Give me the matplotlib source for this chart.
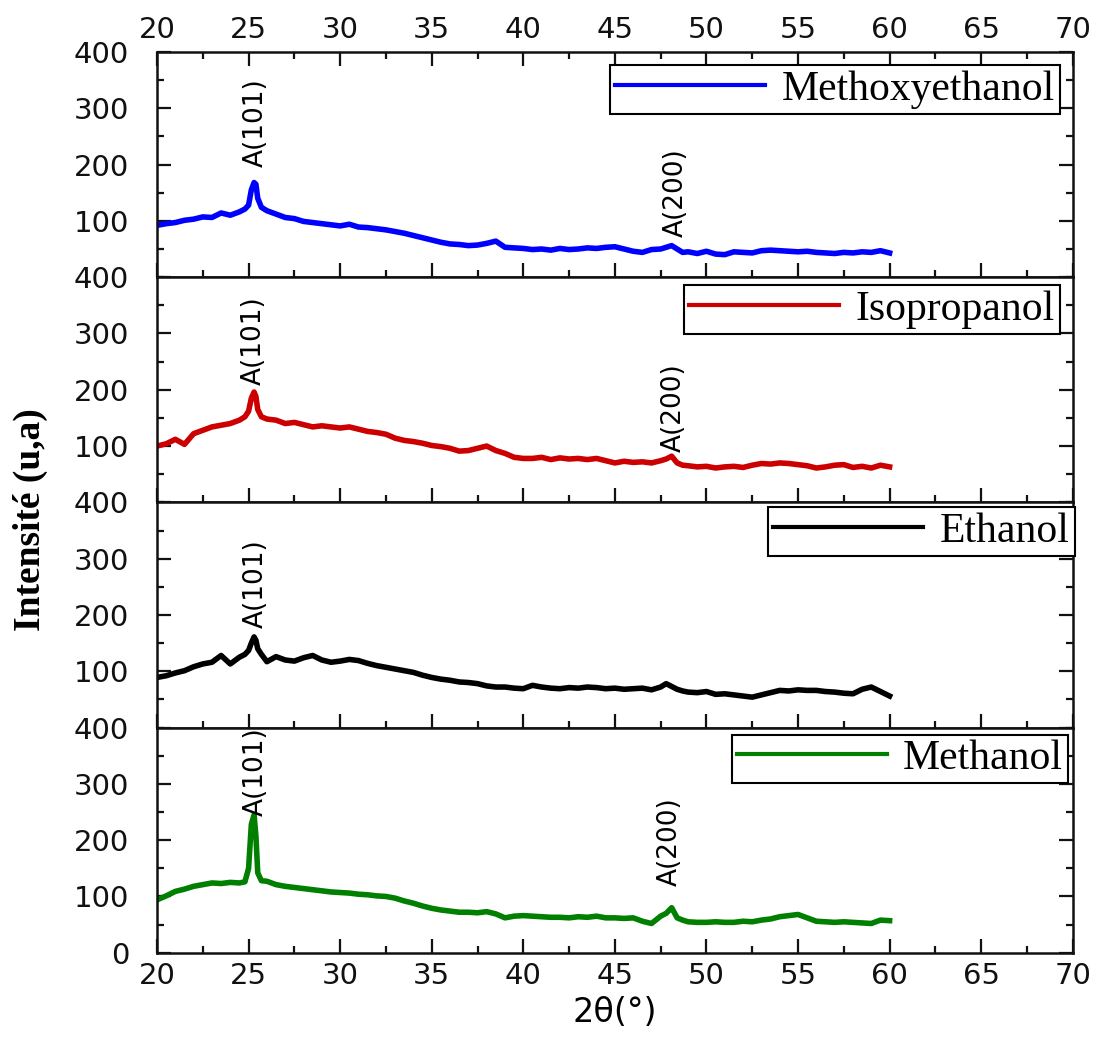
import numpy as np
import matplotlib.pyplot as plt
from matplotlib.ticker import MultipleLocator

# ---------------------------------------------------------------
# Données (diffractogrammes DRX)
# ---------------------------------------------------------------
two_theta = [
    20.0, 20.5, 21.0, 21.5, 22.0, 22.5, 23.0, 23.5, 24.0, 24.5,
    24.8, 25.0, 25.15, 25.3, 25.4, 25.5, 25.7, 26.0, 26.5, 27.0,
    27.5, 28.0, 28.5, 29.0, 29.5, 30.0, 30.5, 31.0, 31.5, 32.0,
    32.5, 33.0, 33.5, 34.0, 34.5, 35.0, 35.5, 36.0, 36.5, 37.0,
    37.5, 38.0, 38.5, 39.0, 39.5, 40.0, 40.5, 41.0, 41.5, 42.0,
    42.5, 43.0, 43.5, 44.0, 44.5, 45.0, 45.5, 46.0, 46.5, 47.0,
    47.5, 47.8, 48.1, 48.4, 48.7, 49.0, 49.5, 50.0, 50.5, 51.0,
    51.5, 52.0, 52.5, 53.0, 53.5, 54.0, 54.5, 55.0, 55.5, 56.0,
    56.5, 57.0, 57.5, 58.0, 58.5, 59.0, 59.5, 60.0,
]

methoxyethanol = [
    92, 95, 97, 101, 103, 107, 106, 114, 110, 116,
    121, 128, 155, 168, 165, 140, 124, 118, 112, 106,
    104, 99, 97, 95, 93, 91, 94, 89, 88, 86,
    84, 81, 78, 74, 70, 66, 62, 59, 58, 56,
    57, 60, 64, 53, 52, 51, 49, 50, 48, 51,
    49, 50, 52, 51, 53, 54, 50, 46, 44, 49,
    50, 53, 56, 50, 44, 45, 42, 46, 41, 40,
    45, 44, 43, 47, 48, 47, 46, 45, 46, 44,
    43, 42, 44, 43, 45, 44, 47, 43,
]

isopropanol = [
    100, 104, 112, 103, 122, 128, 134, 137, 140, 146,
    152, 162, 185, 196, 188, 165, 152, 148, 146, 140,
    142, 138, 134, 136, 134, 132, 134, 130, 126, 124,
    121, 114, 110, 108, 105, 101, 99, 96, 91, 92,
    96, 100, 92, 87, 80, 78, 78, 80, 76, 79,
    77, 78, 76, 78, 74, 70, 73, 71, 72, 70,
    74, 77, 82, 70, 66, 65, 63, 64, 61, 63,
    64, 62, 66, 69, 68, 70, 69, 67, 65, 61,
    63, 66, 67, 62, 64, 61, 66, 63,
]

ethanol = [
    89, 92, 97, 101, 108, 113, 116, 128, 113, 125,
    130, 137, 150, 161, 155, 140, 130, 117, 126, 120,
    118, 124, 128, 120, 116, 118, 121, 119, 114, 110,
    107, 104, 101, 98, 93, 89, 86, 84, 81, 80,
    78, 74, 72, 72, 70, 69, 75, 72, 70, 69,
    71, 70, 72, 71, 69, 70, 68, 69, 70, 67,
    72, 78, 73, 68, 65, 63, 62, 64, 59, 60,
    58, 56, 54, 58, 62, 66, 65, 67, 66, 66,
    64, 63, 61, 60, 68, 72, 64, 56,
]

methanol = [
    94, 101, 109, 113, 118, 121, 124, 123, 125, 124,
    126, 150, 228, 245, 207, 142, 128, 127, 121, 118,
    116, 114, 112, 110, 108, 107, 106, 104, 103, 101,
    100, 97, 92, 88, 83, 79, 76, 74, 72, 72,
    71, 73, 69, 62, 65, 66, 65, 64, 63, 63,
    62, 64, 63, 65, 62, 62, 61, 62, 56, 52,
    65, 70, 80, 62, 58, 55, 54, 54, 55, 54,
    54, 56, 55, 58, 60, 64, 66, 68, 62, 56,
    55, 54, 55, 54, 53, 52, 58, 57,
]

noms = ["Methoxyethanol", "Isopropanol", "Ethanol", "Methanol"]
series = [methoxyethanol, isopropanol, ethanol, methanol]
couleurs = ["#0000FF", "#CC0000", "#000000", "#007F00"]

# annotations des pics : (texte, position 2θ, intensité du centre du texte)
pics = [
    [("A(101)", 25.4, 274), ("A(200)", 48.3, 151)],
    [("A(101)", 25.3, 288), ("A(200)", 48.2, 169)],
    [("A(101)", 25.4, 256)],
    [("A(101)", 25.4, 322), ("A(200)", 48.0, 197)],
]

# position des légendes (coin haut-droit, coord. axes)
pos_leg = [(0.986, 0.942), (0.986, 0.964), (1.002, 0.978), (0.995, 0.969)]

# ---------------------------------------------------------------
# Figure
# ---------------------------------------------------------------
fig, axes = plt.subplots(4, 1, figsize=(10.98, 10.39), dpi=100, sharex=True)
fig.subplots_adjust(left=0.143, right=0.977, top=0.95, bottom=0.083, hspace=0)

for i, ax in enumerate(axes):
    ax.plot(two_theta, series[i], color=couleurs[i], lw=4, label=noms[i])
    ax.set_xlim(20, 70)
    ax.set_ylim(0, 400)
    ax.xaxis.set_major_locator(MultipleLocator(5))
    ax.xaxis.set_minor_locator(MultipleLocator(2.5))
    ax.yaxis.set_major_locator(MultipleLocator(100))
    ax.yaxis.set_minor_locator(MultipleLocator(50))
    ax.tick_params(which="both", direction="in", width=1.6, colors="#111111",
                   labelsize=21, right=True, top=(i == 0))
    ax.tick_params(which="major", length=10)
    ax.tick_params(which="minor", length=5)
    ax.tick_params(axis="y", pad=20)
    for sp in ax.spines.values():
        sp.set_linewidth(1.8)
        sp.set_color("#111111")

    if i < 3:
        ax.set_yticks([100, 200, 300, 400])
    else:
        ax.set_yticks([0, 100, 200, 300, 400])

    for txt, xx, yy in pics[i]:
        ax.text(xx, yy, txt, rotation=90, ha="center", va="center",
                fontsize=19, color="black")

    leg = ax.legend(loc="upper right", bbox_to_anchor=pos_leg[i],
                    borderaxespad=0, fancybox=False, edgecolor="black",
                    framealpha=1, handlelength=3.6, handletextpad=0.4,
                    borderpad=0.12,
                    prop={"family": "Liberation Serif", "size": 30})
    leg.get_frame().set_linewidth(1.5)
    leg.get_lines()[0].set_linewidth(3)

axes[0].tick_params(axis="x", labeltop=True, labelbottom=False, pad=6)
axes[3].tick_params(axis="x", labelbottom=True, pad=7)

axes[3].set_xlabel("2θ(°)", fontsize=24, labelpad=4)
fig.text(0.028, 0.5, "Intensité (u,a)", rotation=90, ha="center", va="center",
         fontsize=27, fontweight="bold", family="Liberation Serif")

plt.savefig("out.png", dpi=100)
